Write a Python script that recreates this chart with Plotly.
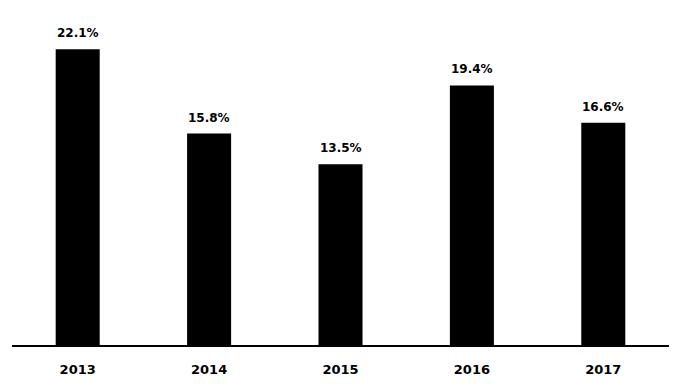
import plotly.graph_objects as go

years = ["2013", "2014", "2015", "2016", "2017"]
values = [22.1, 15.8, 13.5, 19.4, 16.6]
labels = ["22.1%", "15.8%", "13.5%", "19.4%", "16.6%"]

fig = go.Figure(go.Bar(x=years, y=values, marker=dict(color="black", line=dict(width=0))))

for i, (v, t) in enumerate(zip(values, labels)):
    fig.add_annotation(x=i, y=v, text=t, showarrow=False, yanchor="bottom", yshift=7,
                       font=dict(family="DejaVu Sans", size=12, color="black", weight="bold"))

fig.update_layout(
    width=681, height=386,
    margin=dict(l=12, r=12, t=0, b=41),
    plot_bgcolor="white", paper_bgcolor="white",
    bargap=0.665,
    showlegend=False,
    xaxis=dict(type="category", range=[-0.5, len(years) - 0.5],
               showline=True, linecolor="black", linewidth=1.5, showgrid=False,
               ticks="outside", ticklen=12, tickcolor="rgba(0,0,0,0)",
               tickfont=dict(family="DejaVu Sans", size=13, color="black", weight="bold")),
    yaxis=dict(visible=False, range=[0, 25.78]),
)

fig.write_html("out.html")
